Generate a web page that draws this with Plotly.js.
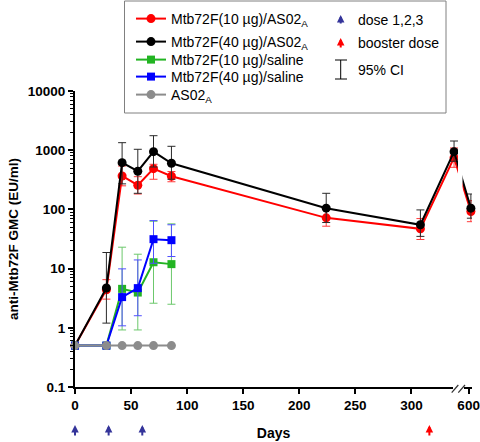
<!DOCTYPE html>
<html><head><meta charset="utf-8">
<script src="https://cdn.plot.ly/plotly-3.0.1.min.js"></script>
<style>html,body{margin:0;padding:0;background:#fff}#chart{width:480px;height:442px}</style>
</head><body><div id="chart"></div>
<script>
// ---------- data ----------
const daysAS = [0, 28, 42, 56, 70, 86, 224, 308, 338, 602];
const red10AS   = [0.5, 4.4, 367, 256, 488, 363, 72, 47, 748, 92];
const red10ASLo = [0.5, 3.05, 250, 182, 323, 293, 52, 31, 514, 62];
const red10ASHi = [0.5, 6.5, 540, 357, 578, 436, 100, 70, 1090, 141];
const blk40AS   = [0.5, 4.7, 616, 441, 944, 601, 105, 55, 944, 105];
const blk40ASLo = [0.5, 1.2, 270, 187, 520, 323, 60, 35, 650, 71];
const blk40ASHi = [0.5, 18.7, 1340, 1036, 1758, 1164, 187, 98, 1430, 182];

const daysSal = [0, 28, 42, 56, 70, 86];
const grn10Sal   = [0.5, 0.5, 4.55, 3.94, 12.8, 11.9];
const grn10SalLo = [0.5, 0.5, 0.92, 0.92, 2.6, 2.5];
const grn10SalHi = [0.5, 0.5, 23, 17.5, 63, 57];
const blu40Sal   = [0.5, 0.5, 3.3, 4.68, 31.4, 30.2];
const blu40SalLo = [0.5, 0.5, 1.08, 1.6, 12.3, 16];
const blu40SalHi = [0.5, 0.5, 9.9, 14, 64.8, 55];
const greyAS02   = [0.5, 0.5, 0.5, 0.5, 0.5, 0.5];

const seriesNames = ['Mtb72F(10 µg)/AS02<sub>A</sub>', 'Mtb72F(40 µg)/AS02<sub>A</sub>',
  'Mtb72F(10 µg)/saline', 'Mtb72F(40 µg)/saline', 'AS02<sub>A</sub>'];
const doseDays = [0, 30, 60];
const boosterDays = [316];
const xTickDays = [0, 50, 100, 150, 200, 250, 300, 600];
const xTickLabels = ['0', '50', '100', '150', '200', '250', '300', '600'];
const yTickVals = [0.1, 1, 10, 100, 1000, 10000];
const yTickLabels = ['0.1', '1', '10', '100', '1000', '10000'];
const breakDays = [348, 597];
const xRangeDays = [0, 603];

// ---------- helpers ----------
const BASE = Date.UTC(2000, 0, 1);
const dd = d => new Date(BASE + d * 86400000).toISOString().slice(0, 19).replace('T', ' ');
const L = 75, R = 8, T = 91, B = 55, W = 480 - L - R, H = 442 - T - B;
const px2x = p => (p - L) / W;
const px2y = p => (T + H - p) / H;
const FONT = 'Liberation Sans, Arial, sans-serif';

function series(days, v, lo, hi, name, color, ecolor, symbol, size, legendId) {
  return {
    type: 'scatter', mode: 'lines+markers', name: name, legend: legendId,
    x: days.map(dd), y: v,
    line: {color: color, width: 2},
    marker: {color: color, symbol: symbol, size: size},
    error_y: lo ? {type: 'data', symmetric: false,
      array: hi.map((h, i) => h - v[i]), arrayminus: lo.map((l, i) => v[i] - l),
      color: ecolor, thickness: 1, width: 4} : {visible: false},
    cliponaxis: false
  };
}

const traces = [
  series(daysAS, red10AS, red10ASLo, red10ASHi, seriesNames[0], '#ff0000', '#ff3a3a', 'circle', 9, 'legend'),
  series(daysAS, blk40AS, blk40ASLo, blk40ASHi, seriesNames[1], '#000000', '#2a2a2a', 'circle', 9, 'legend2'),
  series(daysSal, grn10Sal, grn10SalLo, grn10SalHi, seriesNames[2], '#22b422', '#6cc86c', 'square', 8, 'legend3'),
  series(daysSal, blu40Sal, blu40SalLo, blu40SalHi, seriesNames[3], '#0000ff', '#5050ff', 'square', 8, 'legend4'),
  series(daysSal, greyAS02, null, null, seriesNames[4], '#8c8c8c', '#8c8c8c', 'circle', 9, 'legend5')
];

const NAVY = '#34349a';
const arrow = (xref, x, yTip, len, color) => ({xref: xref, yref: 'paper', x: x, y: px2y(yTip),
  ax: 0, ay: len, text: '', showarrow: true, arrowhead: 2, arrowsize: 0.75, arrowwidth: 2, arrowcolor: color});
const annotations = [];
doseDays.forEach(d => annotations.push(arrow('x', dd(d), 425, 12, NAVY)));
boosterDays.forEach(d => annotations.push(arrow('x', dd(d), 425, 12, '#ff0000')));
// legend right column
annotations.push(arrow('paper', px2x(340.7), 15, 10, NAVY));
annotations.push(arrow('paper', px2x(340.7), 38, 11, '#ff0000'));
[['dose 1,2,3', 20], ['booster dose', 42.5], ['95% CI', 69.5]].forEach(([t, y]) =>
  annotations.push({xref: 'paper', yref: 'paper', x: px2x(356), y: px2y(y), xanchor: 'left', yanchor: 'middle',
    text: t, showarrow: false, font: {family: FONT, size: 14, color: '#000'}}));

const line = (x0, y0, x1, y1, c, w) => ({type: 'line', xref: 'paper', yref: 'paper',
  x0: px2x(x0), y0: px2y(y0), x1: px2x(x1), y1: px2y(y1), line: {color: c, width: w}, layer: 'above'});
const rect = (x0, y0, x1, y1, fill, lc, lw) => ({type: 'rect', xref: 'paper', yref: 'paper',
  x0: px2x(x0), y0: px2y(y0), x1: px2x(x1), y1: px2y(y1), fillcolor: fill,
  line: {color: lc, width: lw}, layer: 'above'});

const shapes = [
  rect(124.5, 113, 446, 1, '#ffffff', '#808080', 1),
  line(340.7, 60, 340.7, 79, '#000', 1),
  line(335, 60, 347, 60, '#000', 1),
  line(335, 79, 347, 79, '#000', 1),
  // axis break
  rect(458, 92, 462.5, 382, '#ffffff', 'rgba(0,0,0,0)', 0),
  rect(453, 383, 464, 392, '#ffffff', 'rgba(0,0,0,0)', 0),
  line(451.7, 392.7, 458.3, 385, '#333', 1.2),
  line(458.3, 392.7, 465, 385, '#333', 1.2)
];

const legendAt = yc => ({x: px2x(131), y: px2y(yc), xanchor: 'left', yanchor: 'middle',
  bgcolor: 'rgba(0,0,0,0)', borderwidth: 0, font: {family: FONT, size: 14, color: '#000'}});

const layout = {
  width: 480, height: 442,
  margin: {l: L, r: R, t: T, b: B, autoexpand: false},
  paper_bgcolor: '#fff', plot_bgcolor: '#fff',
  font: {family: FONT, color: '#000'},
  showlegend: true,
  legend: legendAt(19),
  legend2: legendAt(42),
  legend3: legendAt(60),
  legend4: legendAt(77),
  legend5: legendAt(95),
  xaxis: {
    type: 'date', range: xRangeDays.map(dd),
    rangebreaks: [{bounds: breakDays.map(dd)}],
    tickmode: 'array', tickvals: xTickDays.map(dd), ticktext: xTickLabels,
    ticks: 'outside', ticklen: 5, tickwidth: 2, tickcolor: '#000',
    showline: true, linewidth: 2, linecolor: '#000', showgrid: false, zeroline: false,
    tickfont: {family: FONT, size: 13.5, weight: 'bold'},
    title: {text: 'Days', font: {family: FONT, size: 14, weight: 'bold'}, standoff: 16}
  },
  yaxis: {
    type: 'log', range: [-1, 4],
    tickmode: 'array', tickvals: yTickVals, ticktext: yTickLabels,
    ticks: 'outside', ticklen: 5, tickwidth: 2, tickcolor: '#000',
    minor: {ticks: 'outside', ticklen: 3, tickwidth: 1, tickcolor: '#000', dtick: 'D1', showgrid: false},
    showline: true, linewidth: 2, linecolor: '#000', showgrid: false, zeroline: false,
    tickfont: {family: FONT, size: 13.5, weight: 'bold'},
    title: {text: 'anti-Mtb72F GMC (EU/ml)', font: {family: FONT, size: 13.5, weight: 'bold'}, standoff: 6}
  },
  annotations: annotations,
  shapes: shapes
};

Plotly.newPlot('chart', traces, layout, {displayModeBar: false, staticPlot: true});
</script>
</body></html>
